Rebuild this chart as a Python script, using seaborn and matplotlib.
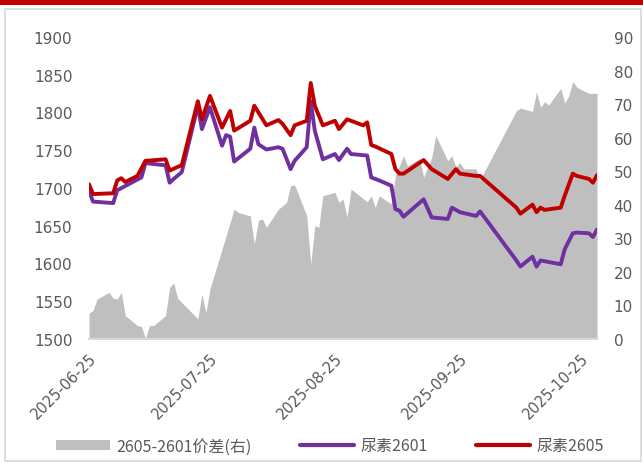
import numpy as np
import pandas as pd
import matplotlib
matplotlib.use("Agg")
import matplotlib.pyplot as plt
import matplotlib.dates as mdates
from matplotlib.patches import Patch, Rectangle
from matplotlib.lines import Line2D
import seaborn as sns

sns.set_style("white")
plt.rcParams["font.family"] = ["DejaVu Sans", "Noto Sans CJK SC"]

# 尿素2605 (left axis)
red_dates = ["2025-06-25", "2025-06-26", "2025-07-01", "2025-07-02", "2025-07-03", "2025-07-04",
             "2025-07-07", "2025-07-09", "2025-07-14", "2025-07-15", "2025-07-17", "2025-07-18",
             "2025-07-22", "2025-07-23", "2025-07-25", "2025-07-28", "2025-07-30", "2025-07-31",
             "2025-08-04", "2025-08-05", "2025-08-08", "2025-08-11", "2025-08-12", "2025-08-14",
             "2025-08-15", "2025-08-18", "2025-08-19", "2025-08-20", "2025-08-22", "2025-08-25",
             "2025-08-26", "2025-08-28", "2025-09-01", "2025-09-02", "2025-09-03", "2025-09-04",
             "2025-09-08", "2025-09-09", "2025-09-10", "2025-09-11", "2025-09-16", "2025-09-18",
             "2025-09-22", "2025-09-24", "2025-09-25", "2025-09-29", "2025-09-30", "2025-10-09",
             "2025-10-10", "2025-10-13", "2025-10-14", "2025-10-15", "2025-10-16", "2025-10-20",
             "2025-10-21", "2025-10-23", "2025-10-24", "2025-10-27", "2025-10-28", "2025-10-29"]
red_vals = [1705, 1692, 1693, 1710, 1713, 1708,
            1716, 1736, 1738, 1723, 1728, 1730,
            1815, 1791, 1822, 1780, 1802, 1776,
            1789, 1809, 1783, 1790, 1785, 1770,
            1783, 1789, 1839, 1809, 1783, 1789,
            1778, 1791, 1783, 1787, 1757, 1755,
            1745, 1725, 1719, 1719, 1737, 1725,
            1712, 1725, 1719, 1716, 1716, 1674,
            1666, 1678, 1668, 1674, 1671, 1674,
            1690, 1719, 1716, 1712, 1707, 1717]

# 尿素2601 (left axis)
purple_dates = ["2025-06-25", "2025-06-26", "2025-07-01", "2025-07-02", "2025-07-08", "2025-07-09",
                "2025-07-14", "2025-07-15", "2025-07-16", "2025-07-18", "2025-07-22", "2025-07-23",
                "2025-07-25", "2025-07-28", "2025-07-29", "2025-07-30", "2025-07-31", "2025-08-04",
                "2025-08-05", "2025-08-06", "2025-08-08", "2025-08-11", "2025-08-12", "2025-08-14",
                "2025-08-15", "2025-08-18", "2025-08-19", "2025-08-20", "2025-08-22", "2025-08-25",
                "2025-08-26", "2025-08-28", "2025-08-29", "2025-09-02", "2025-09-03", "2025-09-05",
                "2025-09-08", "2025-09-09", "2025-09-10", "2025-09-11", "2025-09-16", "2025-09-18",
                "2025-09-22", "2025-09-23", "2025-09-25", "2025-09-29", "2025-09-30", "2025-10-09",
                "2025-10-10", "2025-10-13", "2025-10-14", "2025-10-15", "2025-10-20", "2025-10-21",
                "2025-10-23", "2025-10-24", "2025-10-27", "2025-10-28", "2025-10-29"]
purple_vals = [1696, 1682, 1680, 1697, 1714, 1733,
               1730, 1707, 1712, 1721, 1809, 1778,
               1807, 1756, 1770, 1768, 1735, 1752,
               1780, 1758, 1751, 1754, 1752, 1725,
               1736, 1754, 1815, 1776, 1738, 1745,
               1737, 1752, 1745, 1743, 1714, 1710,
               1703, 1672, 1670, 1662, 1685, 1661,
               1659, 1674, 1668, 1663, 1669, 1604,
               1596, 1609, 1596, 1604, 1599, 1619,
               1640, 1641, 1640, 1635, 1645]

# 2605-2601价差 (right axis)
spread_dates = ["2025-06-25", "2025-06-26", "2025-06-27", "2025-06-30", "2025-07-01", "2025-07-02",
                "2025-07-03", "2025-07-04", "2025-07-07", "2025-07-08", "2025-07-09", "2025-07-10",
                "2025-07-11", "2025-07-14", "2025-07-15", "2025-07-16", "2025-07-17", "2025-07-22",
                "2025-07-23", "2025-07-24", "2025-07-25", "2025-07-28", "2025-07-31", "2025-08-01",
                "2025-08-04", "2025-08-05", "2025-08-06", "2025-08-07", "2025-08-08", "2025-08-11",
                "2025-08-13", "2025-08-14", "2025-08-15", "2025-08-18", "2025-08-19", "2025-08-20",
                "2025-08-21", "2025-08-22", "2025-08-25", "2025-08-26", "2025-08-27", "2025-08-28",
                "2025-08-29", "2025-09-02", "2025-09-03", "2025-09-04", "2025-09-05", "2025-09-08",
                "2025-09-09", "2025-09-11", "2025-09-12", "2025-09-15", "2025-09-16", "2025-09-18",
                "2025-09-19", "2025-09-22", "2025-09-23", "2025-09-24", "2025-09-25", "2025-09-26",
                "2025-09-29", "2025-09-30", "2025-10-09", "2025-10-10", "2025-10-13", "2025-10-14",
                "2025-10-15", "2025-10-16", "2025-10-17", "2025-10-20", "2025-10-21", "2025-10-22",
                "2025-10-23", "2025-10-24", "2025-10-27", "2025-10-28", "2025-10-29"]
spread_vals = [7.7, 8.5, 11.9, 13.9, 12.1, 11.9,
               13.9, 7.0, 4.0, 3.7, 0.2, 4.0,
               4.0, 7.0, 15.4, 16.7, 12.1, 6.0,
               13.4, 7.9, 14.9, 26.8, 38.7, 37.7,
               36.7, 28.3, 35.3, 35.8, 33.3, 38.7,
               40.7, 45.7, 45.9, 36.7, 22.3, 33.8,
               33.3, 42.7, 43.7, 40.7, 41.7, 36.3,
               44.7, 40.9, 42.7, 39.2, 42.7, 40.2,
               48.7, 54.6, 51.6, 53.8, 48.2, 54.1,
               60.6, 53.1, 54.6, 51.2, 52.6, 50.7,
               50.7, 47.5, 68.0, 68.8, 67.8, 73.7,
               69.0, 70.7, 69.7, 74.7, 70.3, 72.5,
               76.7, 75.0, 73.2, 73.2, 73.2]

tick_dates = ["2025-06-25", "2025-07-25", "2025-08-25", "2025-09-25", "2025-10-25"]

red_df = pd.DataFrame({"date": pd.to_datetime(red_dates), "val": red_vals})
purple_df = pd.DataFrame({"date": pd.to_datetime(purple_dates), "val": purple_vals})
spread_df = pd.DataFrame({"date": pd.to_datetime(spread_dates), "val": spread_vals})

C_RED = "#C00000"
C_PURPLE = "#7030A0"
C_GRAY = "#BFBFBF"
C_TEXT = "#595959"

fig = plt.figure(figsize=(6.43, 4.64), dpi=100)
ax = fig.add_axes([89 / 643, 124 / 464, 508 / 643, 302 / 464])
ax2 = ax.twinx()

# gray area on the right axis, drawn behind the lines
ax2.fill_between(spread_df["date"], 0, spread_df["val"], color=C_GRAY, lw=0)
ax2.set_ylim(0, 90)
ax2.set_yticks(range(0, 91, 10))
ax.set_zorder(ax2.get_zorder() + 1)
ax.patch.set_visible(False)

sns.lineplot(data=purple_df, x="date", y="val", ax=ax, color=C_PURPLE, lw=2.8)
sns.lineplot(data=red_df, x="date", y="val", ax=ax, color=C_RED, lw=2.8)

ax.set_ylim(1500, 1900)
ax.set_yticks(range(1500, 1901, 50))
ax.set_xlim(red_df["date"].min(), red_df["date"].max())
ax.set_xticks(pd.to_datetime(tick_dates))
ax.xaxis.set_major_formatter(mdates.DateFormatter("%Y-%m-%d"))
ax.set_xlabel("")
ax.set_ylabel("")
ax2.set_ylabel("")

for a in (ax, ax2):
    for s in a.spines.values():
        s.set_visible(False)
    a.tick_params(length=0, colors=C_TEXT, labelsize=11)
ax.spines["bottom"].set_visible(True)
ax.spines["bottom"].set_color("#D9D9D9")
ax.spines["bottom"].set_linewidth(1.5)
ax.tick_params(axis="y", pad=12)
ax2.tick_params(axis="y", pad=12)
ax.tick_params(axis="x", pad=8, labelsize=10.5)
for lbl in ax.get_xticklabels():
    lbl.set_rotation(45)
    lbl.set_ha("right")
    lbl.set_rotation_mode("anchor")

handles = [Patch(facecolor=C_GRAY, edgecolor="none"),
           Line2D([], [], color=C_PURPLE, lw=3),
           Line2D([], [], color=C_RED, lw=3)]
labels = ["2605-2601价差(右)", "尿素2601", "尿素2605"]
leg = fig.legend(handles, labels, loc="center", bbox_to_anchor=(330 / 643, 1 - 447 / 464),
                 ncol=3, frameon=False, fontsize=11.5, handlelength=3.4, handleheight=0.6,
                 columnspacing=3.0, handletextpad=0.4,
                 prop={"family": ["Noto Sans CJK SC", "DejaVu Sans"], "size": 11.5})
for t in leg.get_texts():
    t.set_color(C_TEXT)

# frame and top red bar
fig.patches.append(Rectangle((5 / 643, 2 / 464), 636 / 643, 452 / 464, transform=fig.transFigure,
                             fill=False, edgecolor="#D9D9D9", lw=1.2))
fig.patches.append(Rectangle((0, 1 - 6 / 464), 1, 6 / 464, transform=fig.transFigure,
                             facecolor=C_RED, edgecolor="none"))

fig.savefig("out.png", dpi=100)
